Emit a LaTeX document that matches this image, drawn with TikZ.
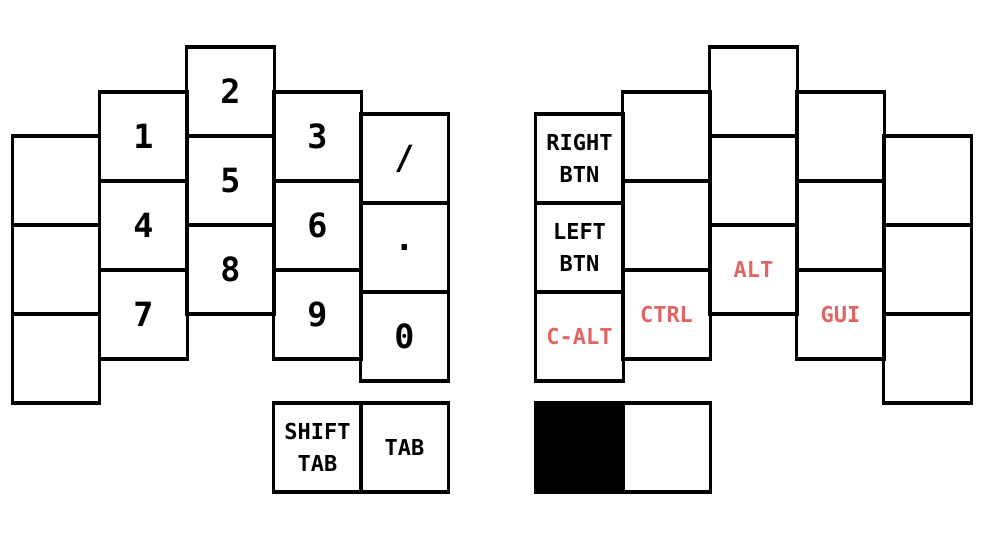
\documentclass[tikz,border=0pt]{standalone}
\usepackage{fontspec}
\setmonofont{DejaVu Sans Mono}
\usepackage{xcolor}
\usepackage{tikz}
\definecolor{modred}{RGB}{224,102,102}

\begin{document}
\begin{tikzpicture}[x=0.02cm,y=-0.02cm,
 key/.style={draw,line width=1.8pt,minimum width=1.75cm,minimum height=1.78cm,inner sep=0pt,
   align=center,font=\ttfamily\bfseries\fontsize{12.5}{18}\selectfont},
 num/.style={key,font=\ttfamily\bfseries\fontsize{19}{20}\selectfont},
 mod/.style={key,text=modred}]
\useasboundingbox (0,0) rectangle (988,556);
% left hand
\node[key] (l11) at (56,180.5) {};
\node[key] (l12) at (56,269.5) {};
\node[key] (l13) at (56,358.5) {};
\node[num] (l21) at (143.5,136.5) {1};
\node[num] (l22) at (143.5,225.5) {4};
\node[num] (l23) at (143.5,314.5) {7};
\node[num] (l31) at (230.5,91.5) {2};
\node[num] (l32) at (230.5,180.5) {5};
\node[num] (l33) at (230.5,269.5) {8};
\node[num] (l41) at (317.5,136.5) {3};
\node[num] (l42) at (317.5,225.5) {6};
\node[num] (l43) at (317.5,314.5) {9};
\node[num] (l51) at (404.5,158.5) {/};
\node[num] (l52) at (404.5,247.5) {.};
\node[num] (l53) at (404.5,336.5) {0};
\node[key] (lt1) at (317.5,447.5) {SHIFT\\TAB};
\node[key] (lt2) at (404.5,447.5) {TAB};
% right hand
\node[key] (r11) at (579.5,158.5) {RIGHT\\BTN};
\node[key] (r12) at (579.5,247.5) {LEFT\\BTN};
\node[mod] (r13) at (579.5,336.5) {C-ALT};
\node[key] (r21) at (666.5,136.5) {};
\node[key] (r22) at (666.5,225.5) {};
\node[mod] (r23) at (666.5,314.5) {CTRL};
\node[key] (r31) at (753.5,91.5) {};
\node[key] (r32) at (753.5,180.5) {};
\node[mod] (r33) at (753.5,269.5) {ALT};
\node[key] (r41) at (840.5,136.5) {};
\node[key] (r42) at (840.5,225.5) {};
\node[mod] (r43) at (840.5,314.5) {GUI};
\node[key] (r51) at (927.5,180.5) {};
\node[key] (r52) at (927.5,269.5) {};
\node[key] (r53) at (927.5,358.5) {};
\node[key,fill=black] (rt1) at (579.5,447.5) {};
\node[key] (rt2) at (666.5,447.5) {};
\end{tikzpicture}
\end{document}
